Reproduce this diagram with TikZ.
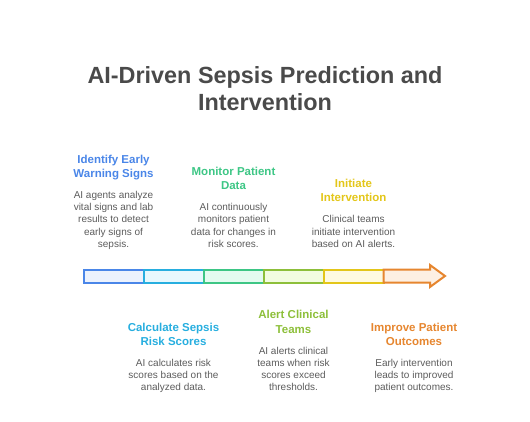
\documentclass[tikz,border=0pt]{standalone}
\usepackage{fontspec}
\setmainfont{Liberation Sans}
\definecolor{ttl}{HTML}{4A4A4A}
\definecolor{bodyc}{HTML}{5C5C5C}
\definecolor{cB}{HTML}{4A86E8}\definecolor{fB}{HTML}{ECF2FD}
\definecolor{cC}{HTML}{27AEDF}\definecolor{fC}{HTML}{E7F8FD}
\definecolor{cG}{HTML}{3DC685}\definecolor{fG}{HTML}{E4FBF0}
\definecolor{cL}{HTML}{8DBF3A}\definecolor{fL}{HTML}{F2FCE0}
\definecolor{cY}{HTML}{E3C619}\definecolor{fY}{HTML}{FEFAE0}
\definecolor{cO}{HTML}{E6862F}\definecolor{fO}{HTML}{FDF0E3}
\tikzset{
  seg/.style={draw=#1, line width=2pt, minimum width=60pt, minimum height=13pt, inner sep=0pt, outer sep=0pt},
  steptitle/.style={align=center, inner sep=0pt, text=#1, font=\fontsize{11.5}{14.5}\selectfont\bfseries,
    execute at begin node=\strut, execute at end node=\strut},
  stepbody/.style={align=center, inner sep=0pt, text=bodyc, font=\fontsize{10}{12.2}\selectfont,
    execute at begin node=\strut, execute at end node=\strut},
}
\begin{document}
\begin{tikzpicture}[x=1pt,y=-1pt]
\useasboundingbox (0,0) rectangle (530,422);
\node[align=center, inner sep=0pt, text=ttl, font=\fontsize{23.4}{27}\selectfont\bfseries,
  execute at begin node=\strut, execute at end node=\strut] (title) at (265,92.3)
  {AI-Driven Sepsis Prediction and\\Intervention};
% bar
\node[seg=cB, fill=fB] (s1) at (113.5,276) {};
\node[seg=cC, fill=fC] (s2) at (173.5,276) {};
\node[seg=cG, fill=fG] (s3) at (233.5,276) {};
\node[seg=cL, fill=fL] (s4) at (293.5,276) {};
\node[seg=cY, fill=fY] (s5) at (353.5,276) {};
\draw[draw=cO, fill=fO, line width=2pt, line join=miter]
  (383.5,269.5) -- (430,269.5) -- (430,265) -- (445,276) -- (430,287) -- (430,282.5) -- (383.5,282.5) -- cycle;
\coordinate (s6) at (414,276);
% top steps
\node[stepbody, anchor=south] (b1) at (113.5,251.2) {AI agents analyze\\vital signs and lab\\results to detect\\early signs of\\sepsis.};
\node[steptitle=cB, anchor=south] (t1) at ([yshift=9pt]b1.north) {Identify Early\\Warning Signs};
\node[stepbody, anchor=south] (b3) at (233.5,251.2) {AI continuously\\monitors patient\\data for changes in\\risk scores.};
\node[steptitle=cG, anchor=south] (t3) at ([yshift=9pt]b3.north) {Monitor Patient\\Data};
\node[stepbody, anchor=south] (b5) at (353.5,251.2) {Clinical teams\\initiate intervention\\based on AI alerts.};
\node[steptitle=cY, anchor=south] (t5) at ([yshift=9pt]b5.north) {Initiate\\Intervention};
% bottom steps
\node[stepbody, anchor=south] (b2) at (173.5,394.8) {AI calculates risk\\scores based on the\\analyzed data.};
\node[steptitle=cC, anchor=south] (t2) at ([yshift=9pt]b2.north) {Calculate Sepsis\\Risk Scores};
\node[stepbody, anchor=south] (b4) at (293.5,394.8) {AI alerts clinical\\teams when risk\\scores exceed\\thresholds.};
\node[steptitle=cL, anchor=south] (t4) at ([yshift=9pt]b4.north) {Alert Clinical\\Teams};
\node[stepbody, anchor=south] (b6) at (414,394.8) {Early intervention\\leads to improved\\patient outcomes.};
\node[steptitle=cO, anchor=south] (t6) at ([yshift=9pt]b6.north) {Improve Patient\\Outcomes};
\end{tikzpicture}
\end{document}
